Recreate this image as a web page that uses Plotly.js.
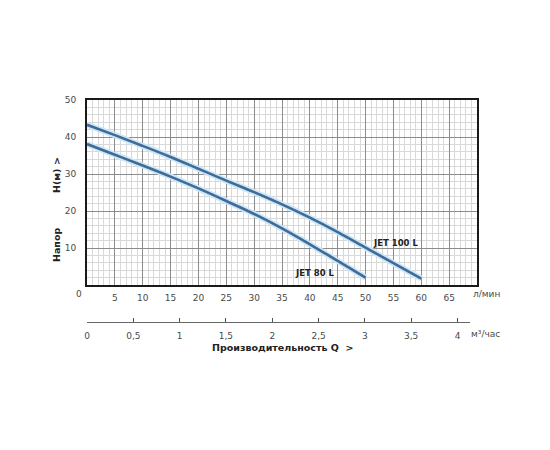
<!DOCTYPE html>
<html>
<head>
<meta charset="utf-8">
<script src="https://cdn.plot.ly/plotly-3.0.1.min.js"></script>
<style>html,body{margin:0;padding:0;background:#fff;}#chart{width:550px;height:450px;}</style>
</head>
<body>
<div id="chart"></div>
<script>
// Flow in l/min and head in m
const flowJet100 = [0, 5, 10, 15, 20, 25, 30, 35, 40, 45, 50, 55, 60];
const headJet100 = [43.3, 40.5, 37.6, 34.6, 31.4, 28.2, 25.1, 21.8, 18.2, 14.3, 10.1, 5.9, 1.7];
const flowJet80 = [0, 5, 10, 15, 20, 25, 30, 35, 40, 45, 50];
const headJet80 = [38.1, 35.2, 32.3, 29.3, 26.1, 22.7, 19.2, 15.3, 11.0, 6.5, 2.0];
const lpmTicks = [0, 5, 10, 15, 20, 25, 30, 35, 40, 45, 50, 55, 60, 65, 70];
const lpmLabels = ['', '5', '10', '15', '20', '25', '30', '35', '40', '45', '50', '55', '60', '65', ''];
const headTicks = [0, 10, 20, 30, 40, 50];
const headLabels = ['', '10', '20', '30', '40', '50'];
const m3Ticks = [0, 0.5, 1, 1.5, 2, 2.5, 3, 3.5, 4];
const m3Labels = ['0', '0,5', '1', '1,5', '2', '2,5', '3', '3,5', '4'];
const seriesNames = ['JET 100 L', 'JET 80 L'];

const W = 550, H = 450, ML = 87, MR = 73, MT = 100, MB = 100;
const PW = W - ML - MR, PH = H - MT - MB;
const px = x => (x - ML) / PW;
const py = y => (H - MB - y) / PH;

const haloColor = '#cde6f7';
const lineColor = '#3e6b97';
function curve(x, y, name, halo) {
  return {
    x: x, y: y, type: 'scatter', mode: 'lines', name: name,
    line: halo ? {color: haloColor, width: 6, shape: 'spline'} : {color: lineColor, width: 2.6, shape: 'spline'},
    hoverinfo: 'skip', showlegend: false
  };
}
const traces = [
  curve(flowJet100, headJet100, seriesNames[0], true),
  curve(flowJet80, headJet80, seriesNames[1], true),
  curve(flowJet100, headJet100, seriesNames[0], false),
  curve(flowJet80, headJet80, seriesNames[1], false),
  {x: m3Ticks, y: m3Ticks.map(() => null), xaxis: 'x2', yaxis: 'y2', type: 'scatter', mode: 'lines',
   showlegend: false, hoverinfo: 'skip'}
];

const tickFont = {family: 'DejaVu Sans, Verdana, sans-serif', size: 9, color: '#4a4a4a'};
const boldFont = {family: 'DejaVu Sans, Verdana, sans-serif', size: 9.5, color: '#222', weight: 'bold'};

function ann(text, x, y, opts) {
  return Object.assign({text: text, x: px(x), y: py(y), xref: 'paper', yref: 'paper',
    showarrow: false, xanchor: 'center', yanchor: 'middle', font: tickFont}, opts || {});
}

const layout = {
  width: W, height: H,
  margin: {l: ML, r: MR, t: MT, b: MB, pad: 0},
  paper_bgcolor: '#ffffff', plot_bgcolor: 'rgba(0,0,0,0)',
  xaxis: {
    range: [0, 70], domain: [0, 1], anchor: 'y',
    tickmode: 'array', tickvals: lpmTicks, ticktext: lpmLabels,
    ticks: '', ticklabelstandoff: 3, tickfont: tickFont,
    showgrid: true, gridcolor: '#8c8c8c', gridwidth: 1,
    minor: {tickmode: 'linear', tick0: 0, dtick: 1, showgrid: true, gridcolor: '#d9d9d9', gridwidth: 1, ticks: ''},
    showline: true, linecolor: '#1a1a1a', linewidth: 2, mirror: true,
    zeroline: false, fixedrange: true
  },
  yaxis: {
    range: [0, 50], domain: [py(285), 1], anchor: 'x',
    tickmode: 'array', tickvals: headTicks, ticktext: headLabels,
    ticks: '', ticklabelstandoff: 7, tickfont: tickFont,
    showgrid: true, gridcolor: '#8c8c8c', gridwidth: 1,
    minor: {tickmode: 'linear', tick0: 0, dtick: 2, showgrid: true, gridcolor: '#d9d9d9', gridwidth: 1, ticks: ''},
    showline: true, linecolor: '#1a1a1a', linewidth: 2, mirror: true,
    zeroline: false, fixedrange: true
  },
  xaxis2: {
    range: [0, 4.135], domain: [0, px(470)], anchor: 'y2', side: 'bottom',
    tickmode: 'array', tickvals: m3Ticks, ticktext: m3Labels,
    ticks: 'inside', ticklen: 4, tickcolor: '#555', tickwidth: 1,
    ticklabelstandoff: 5, tickfont: tickFont,
    showgrid: false, showline: true, linecolor: '#666', linewidth: 1,
    zeroline: false, fixedrange: true
  },
  yaxis2: {
    domain: [py(322), py(322) + 0.04], anchor: 'x2', range: [0, 1],
    visible: false, showgrid: false, zeroline: false, fixedrange: true
  },
  annotations: [
    ann('0', 79, 294),
    ann('л/мин', 487, 294),
    ann('м³/час', 486, 334),
    ann('Производительность Q  &gt;', 282, 347, {font: boldFont}),
    ann('Напор', 56, 245, {font: boldFont, textangle: -90}),
    ann('H(м)', 56, 181, {font: boldFont, textangle: -90}),
    ann('&gt;', 56, 161, {font: boldFont, textangle: -90}),
    {text: seriesNames[0], x: 55.4, y: 11.3, xref: 'x', yref: 'y', showarrow: false,
     font: {family: 'DejaVu Sans, Verdana, sans-serif', size: 8.5, color: '#222', weight: 'bold'}},
    {text: seriesNames[1], x: 41, y: 3.2, xref: 'x', yref: 'y', showarrow: false,
     font: {family: 'DejaVu Sans, Verdana, sans-serif', size: 8.5, color: '#222', weight: 'bold'}}
  ]
};

Plotly.newPlot('chart', traces, layout, {displayModeBar: false, staticPlot: true});
</script>
</body>
</html>
